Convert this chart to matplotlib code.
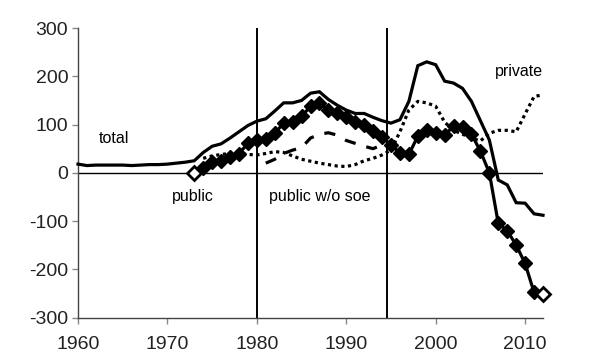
import numpy as np
import matplotlib
matplotlib.use("Agg")
import matplotlib.pyplot as plt

plt.rcParams['font.family'] = ['Liberation Sans', 'DejaVu Sans']
plt.rcParams['axes.unicode_minus'] = False

# data
years_total = list(range(1960, 2013))
total = [18, 15, 16, 16, 16, 16, 15, 16, 17, 17, 18, 20, 22,
         25, 42, 55, 60, 72, 85, 98, 107, 112, 128, 145, 145, 150, 165, 168, 152, 140,
         130, 123, 123, 115, 108, 103, 110, 148, 222, 230, 224, 190, 186, 175, 148, 108,
         68, -15, -25, -62, -63, -85, -88]

years_public = list(range(1973, 2013))
public = [0, 10, 23, 25, 33, 40, 61, 68, 70, 82, 103, 106, 117, 138, 144, 131, 123,
          115, 106, 100, 86, 75, 57, 42, 38, 76, 88, 82, 78, 97, 95, 80, 45, 0,
          -105, -120, -150, -188, -248, -252]

years_wo_soe = list(range(1981, 1996))
public_wo_soe = [20, 28, 40, 47, 52, 72, 80, 83, 78, 67, 61, 55, 50, 58, 52]

years_private = list(range(1974, 2013))
private = [30, 35, 38, 40, 40, 38, 37, 40, 44, 42, 35, 28, 24, 20, 17, 14, 13, 17,
           25, 30, 37, 47, 85, 130, 148, 145, 138, 105, 88, 80, 72, 66, 82, 88, 88, 85,
           122, 158, 162]

breaks = [1980, 1994.6]

fig = plt.figure(figsize=(6, 3.6), dpi=100)
ax = fig.add_axes([0.13, 0.118, 0.775, 0.804])

lw = 2.3
ax.axhline(0, color='black', lw=1.0, zorder=1)
for b in breaks:
    ax.axvline(b, color='black', lw=1.4, zorder=1)

ax.plot(years_total, total, color='black', lw=lw, solid_joinstyle='miter',
        zorder=3, clip_on=False)
ax.plot(years_private, private, color='black', lw=lw, linestyle=(0, (1, 1.1)),
        dash_capstyle='butt', zorder=3, clip_on=False)
ax.plot(years_wo_soe, public_wo_soe, color='black', lw=lw, linestyle=(0, (3.5, 3.5)),
        dash_capstyle='butt', zorder=3)
ax.plot(years_public, public, color='black', lw=lw, marker='D', markersize=6.8,
        markerfacecolor='black', markeredgecolor='black', zorder=4, clip_on=False)
ax.plot([years_public[0], years_public[-1]], [public[0], public[-1]], linestyle='none',
        marker='D', markersize=6.8, markerfacecolor='white', markeredgecolor='black',
        markeredgewidth=2, zorder=5, clip_on=False)

ax.text(1962.3, 72, 'total', fontsize=11.5, va='center', ha='left')
ax.text(1972.8, -50, 'public', fontsize=11.5, va='center', ha='center')
ax.text(1987.0, -50, 'public w/o soe', fontsize=11.5, va='center', ha='center')
ax.text(2009.3, 210, 'private', fontsize=11.5, va='center', ha='center')

ax.set_xlim(1960, 2012)
ax.set_ylim(-300, 300)
ax.set_xticks(range(1960, 2011, 10))
ax.set_yticks(range(-300, 301, 100))
ax.tick_params(axis='both', labelsize=14, length=4, width=1, color='#888888',
               labelcolor='#222222')
ax.tick_params(axis='y', pad=3)
ax.tick_params(axis='x', pad=9)

for side in ['top', 'right']:
    ax.spines[side].set_visible(False)
for side in ['left', 'bottom']:
    ax.spines[side].set_color('#444444')
    ax.spines[side].set_linewidth(1.0)

fig.savefig('out.png', dpi=100)
